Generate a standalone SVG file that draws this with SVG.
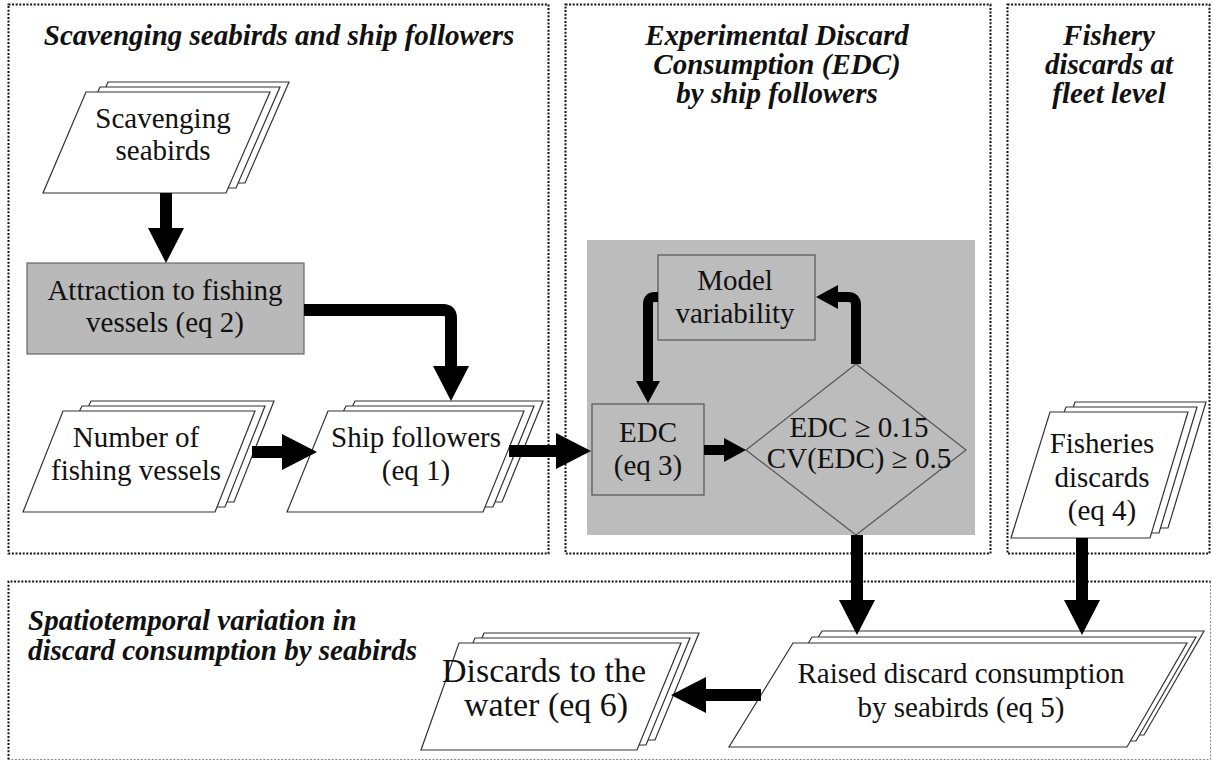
<svg xmlns="http://www.w3.org/2000/svg" width="1213" height="767" viewBox="0 0 1213 767">
<style>
.panel{fill:none;stroke:#111;stroke-width:2;stroke-dasharray:2 1.6}
.panelfaint{fill:none;stroke:#888;stroke-width:1;stroke-dasharray:2 1.6}
.title{font-family:"Liberation Serif","Times New Roman",serif;font-weight:bold;font-style:italic;font-size:29px;fill:#111;text-anchor:middle}
.lbl{font-family:"Liberation Serif","Times New Roman",serif;font-size:29px;fill:#111;text-anchor:middle}
.lbl-lg{font-size:34px}
.doc{fill:#fff;stroke:#333;stroke-width:1.2}
.grey{fill:#bcbcbc}
.box{fill:#bcbcbc;stroke:#555;stroke-width:1.2}
.big{fill:none;stroke:#000;stroke-width:12}
.small{fill:none;stroke:#000;stroke-width:10}
</style>
<defs>
<marker id="hb" markerUnits="userSpaceOnUse" markerWidth="36" markerHeight="36" viewBox="0 -18 36 36" refX="0" refY="0" orient="auto" overflow="visible"><path d="M0,-18 L35,0 L0,18 Z" fill="#000"/></marker>
<marker id="hs" markerUnits="userSpaceOnUse" markerWidth="24" markerHeight="26" viewBox="0 -13 24 26" refX="0" refY="0" orient="auto" overflow="visible"><path d="M0,-12 L22,0 L0,12 Z" fill="#000"/></marker>
</defs>
<rect width="1213" height="767" fill="#fff"/>

<g id="panel-scavenging">
<rect class="panel" x="8.5" y="4.5" width="540" height="549"/>
<text class="title" x="279" y="45">Scavenging seabirds and ship followers</text>
</g>
<g id="panel-edc">
<rect class="panel" x="565.5" y="4.5" width="425" height="549"/>
<text class="title" x="777" y="45">Experimental Discard</text>
<text class="title" x="777" y="74">Consumption (EDC)</text>
<text class="title" x="777" y="103">by ship followers</text>
<rect class="grey" x="587" y="240" width="388" height="295"/>
</g>
<g id="panel-fishery">
<rect class="panel" x="1007.5" y="4.5" width="202" height="549"/>
<text class="title" x="1109" y="45">Fishery</text>
<text class="title" x="1109" y="74">discards at</text>
<text class="title" x="1109" y="103">fleet level</text>
</g>
<g id="panel-spatiotemporal">
<path class="panelfaint" d="M1210.5,581.5 V759.5 H8.5"/>
<path class="panel" d="M8.5,759.5 V581.5 H1210.5"/>
<text class="title" x="28" y="630" style="text-anchor:start">Spatiotemporal variation in</text>
<text class="title" x="28" y="660" style="text-anchor:start">discard consumption by seabirds</text>
</g>

<g id="node-scavenging-seabirds">
<polygon class="doc" points="108,82 289,82 245,183 64,183"/>
<polygon class="doc" points="100,87 280,87 236,188 55,188"/>
<polygon class="doc" points="86,92 270,92 226,193 43,193"/>
<text class="lbl" x="163" y="128">Scavenging</text>
<text class="lbl" x="163" y="160">seabirds</text>
</g>
<g id="node-attraction">
<rect x="27" y="263" width="277" height="91" fill="#b9b9b9" stroke="#666" stroke-width="1.2"/>
<text class="lbl" x="165" y="300">Attraction to fishing</text>
<text class="lbl" x="165" y="332">vessels (eq 2)</text>
</g>
<g id="node-number-vessels">
<polygon class="doc" points="91,401 274,401 234,502 42,502"/>
<polygon class="doc" points="82,406 265,406 225,507 33,507"/>
<polygon class="doc" points="63,411 255,411 215,512 23,512"/>
<text class="lbl" x="136" y="447">Number of</text>
<text class="lbl" x="136" y="480">fishing vessels</text>
</g>
<g id="node-ship-followers">
<polygon class="doc" points="355,401 543,401 502,502 306,502"/>
<polygon class="doc" points="346,406 534,406 493,507 297,507"/>
<polygon class="doc" points="328,411 524,411 483,512 287,512"/>
<text class="lbl" x="416" y="447">Ship followers</text>
<text class="lbl" x="416" y="480">(eq 1)</text>
</g>
<g id="node-model-variability">
<rect class="box" x="658" y="255" width="157" height="85"/>
<text class="lbl" x="735" y="290">Model</text>
<text class="lbl" x="735" y="323">variability</text>
</g>
<g id="node-edc">
<rect class="box" x="592" y="404" width="112" height="91"/>
<text class="lbl" x="648" y="442">EDC</text>
<text class="lbl" x="648" y="475">(eq 3)</text>
</g>
<g id="node-decision">
<polygon class="box" points="856,364 966,450 856,535 746,450" fill="none"/>
<text class="lbl" x="859" y="437">EDC ≥ 0.15</text>
<text class="lbl" x="859" y="468">CV(EDC) ≥ 0.5</text>
</g>
<g id="node-fisheries-discards">
<polygon class="doc" points="1075,402 1206,402 1168,528 1030,528"/>
<polygon class="doc" points="1066,407 1197,407 1159,533 1021,533"/>
<polygon class="doc" points="1050,412 1188,412 1150,538 1011,538"/>
<text class="lbl" x="1102" y="453">Fisheries</text>
<text class="lbl" x="1102" y="487">discards</text>
<text class="lbl" x="1102" y="520">(eq 4)</text>
</g>
<g id="node-raised">
<polygon class="doc" points="822,631 1204,631 1144,735 759,735"/>
<polygon class="doc" points="812,637 1196,637 1136,741 749,741"/>
<polygon class="doc" points="793,643 1187,643 1127,747 729,747"/>
<text class="lbl" x="961" y="683">Raised discard consumption</text>
<text class="lbl" x="961" y="717">by seabirds (eq 5)</text>
</g>
<g id="node-discards-water">
<polygon class="doc" points="484,633 699,633 655,740 440,740"/>
<polygon class="doc" points="475,638 690,638 646,745 431,745"/>
<polygon class="doc" points="459,643 681,643 637,750 421,750"/>
<text class="lbl lbl-lg" x="544" y="682">Discards to the</text>
<text class="lbl lbl-lg" x="546" y="716">water (eq 6)</text>
</g>

<g id="connectors">
<path class="big" d="M166,193 V228" marker-end="url(#hb)"/>
<path class="big" d="M304,310 H443 Q451,310 451,318 V366" marker-end="url(#hb)"/>
<path class="big" d="M252,452 H282" marker-end="url(#hb)"/>
<path class="big" d="M509,451 H556" marker-end="url(#hb)"/>
<path class="small" d="M704,450 H724" marker-end="url(#hs)"/>
<path class="small" d="M856,364 V305 Q856,297 848,297 H838" marker-end="url(#hs)"/>
<path class="small" d="M658,297 H655 Q648,297 648,304 V381" marker-end="url(#hs)"/>
<path class="big" d="M857,535 V600" marker-end="url(#hb)"/>
<path class="big" d="M1082,538 V600" marker-end="url(#hb)"/>
<path class="big" d="M761,695 H706" marker-end="url(#hb)"/>
</g>
</svg>
